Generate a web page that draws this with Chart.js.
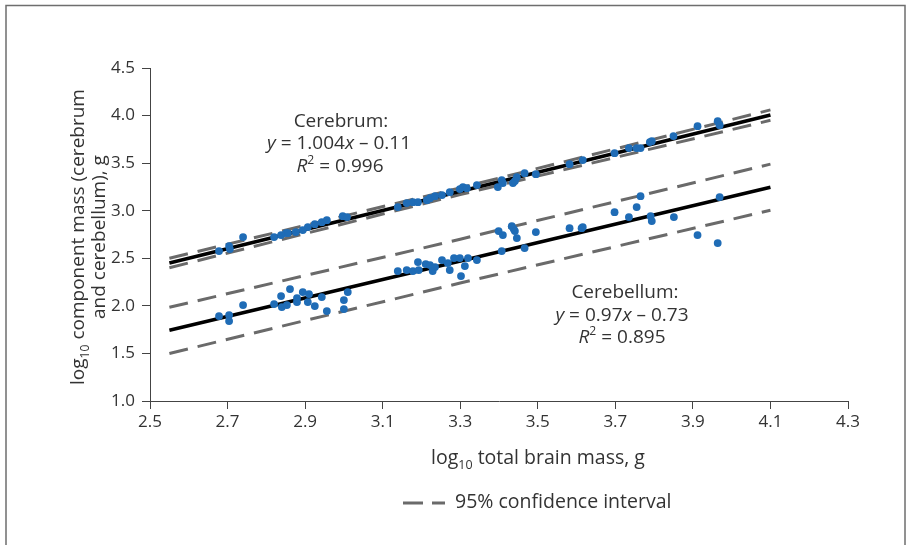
<!DOCTYPE html>
<html>
<head>
<meta charset="utf-8">
<script src="https://cdn.jsdelivr.net/npm/chart.js@4.4.1/dist/chart.umd.min.js"></script>
<style>
    html, body { margin: 0; padding: 0; background: #fff; overflow: hidden; }
    #wrap { width: 909px; height: 545px; position: relative; }
</style>
</head>
<body>
<div id="wrap"><canvas id="chart"></canvas></div>
<script>
// log10 total brain mass (g) against log10 cerebrum / cerebellum mass (g)
const cerebrumX = [2.678, 2.704, 2.706, 2.740, 2.820, 2.838, 2.851, 2.856, 2.876, 2.894, 2.907, 2.925, 2.943, 2.956, 2.997, 3.008,
    3.139, 3.162, 3.178, 3.191, 3.214, 3.222, 3.235, 3.253, 3.273, 3.299, 3.307, 3.317, 3.343, 3.397, 3.407, 3.410, 3.436, 3.441,
    3.446, 3.466, 3.495, 3.582, 3.616, 3.698, 3.735, 3.755, 3.765, 3.789, 3.794, 3.850, 3.912, 3.964, 3.969];
const cerebrumY = [2.576, 2.628, 2.597, 2.723, 2.723, 2.744, 2.765, 2.765, 2.775, 2.796, 2.828, 2.859, 2.880, 2.901, 2.943, 2.933,
    3.038, 3.080, 3.090, 3.090, 3.111, 3.132, 3.153, 3.164, 3.195, 3.227, 3.248, 3.237, 3.269, 3.248, 3.321, 3.290, 3.290, 3.311,
    3.353, 3.395, 3.384, 3.489, 3.532, 3.605, 3.658, 3.658, 3.658, 3.721, 3.731, 3.784, 3.889, 3.941, 3.899];

const cerebellumX = [2.678, 2.704, 2.704, 2.740, 2.820, 2.838, 2.840, 2.853, 2.861, 2.879, 2.879, 2.894, 2.907, 2.910, 2.925, 2.943,
    2.956, 3.000, 3.000, 3.010, 3.139, 3.162, 3.178, 3.191, 3.193, 3.211, 3.222, 3.229, 3.235, 3.253, 3.268, 3.273, 3.284, 3.299,
    3.302, 3.312, 3.320, 3.343, 3.399, 3.410, 3.407, 3.433, 3.438, 3.441, 3.446, 3.466, 3.495, 3.582, 3.613, 3.616, 3.698, 3.735,
    3.755, 3.765, 3.791, 3.794, 3.851, 3.912, 3.964, 3.969];
const cerebellumY = [1.893, 1.903, 1.840, 2.008, 2.019, 2.103, 1.987, 2.008, 2.176, 2.082, 2.040, 2.145, 2.040, 2.124, 1.998, 2.092,
    1.945, 2.061, 1.966, 2.145, 2.366, 2.376, 2.366, 2.460, 2.376, 2.439, 2.429, 2.366, 2.408, 2.481, 2.450, 2.376, 2.502, 2.502,
    2.313, 2.418, 2.502, 2.481, 2.786, 2.744, 2.576, 2.838, 2.807, 2.786, 2.712, 2.607, 2.775, 2.817, 2.817, 2.828, 2.985, 2.933,
    3.038, 3.153, 2.943, 2.891, 2.933, 2.744, 2.660, 3.143];

// fitted lines: [slope, intercept], same as the printed equations
const cerebrumFit = [1.004, -0.11];
const cerebellumFit = [0.97, -0.73];
const fitRange = [2.55, 4.1];

// 95% confidence bands
const bandX = [2.55, 3.3, 4.1];
const cerebrumUpper = [2.50, 3.24, 4.06];
const cerebrumLower = [2.40, 3.17, 3.95];
const cerebellumUpper = [1.985, 2.70, 3.49];
const cerebellumLower = [1.50, 2.24, 3.005];

const xTicks = [2.5, 2.7, 2.9, 3.1, 3.3, 3.5, 3.7, 3.9, 4.1, 4.3];
const yTicks = [1.0, 1.5, 2.0, 2.5, 3.0, 3.5, 4.0, 4.5];

const FONT = '"Open Sans", "Noto Sans", sans-serif';
const TEXT = '#333';
const DOT = '#1f6cb6';
const BAND = '#6a6a6a';
const BAND_DASH = [19, 10];

const toPoints = (xs, ys) => xs.map((x, i) => ({ x: x, y: ys[i] }));
const fitPoints = fit => fitRange.map(x => ({ x: x, y: fit[0] * x + fit[1] }));

function bandSet(label, ys) {
    return {
        type: 'line', label: label, data: toPoints(bandX, ys),
        borderColor: BAND, borderWidth: 3, borderDash: BAND_DASH,
        pointRadius: 0, fill: false, tension: 0, order: 3
    };
}

function fitSet(label, fit) {
    return {
        type: 'line', label: label, data: fitPoints(fit),
        borderColor: '#000', borderWidth: 3.5,
        pointRadius: 0, fill: false, order: 2
    };
}

function dotSet(label, xs, ys) {
    return {
        type: 'scatter', label: label, data: toPoints(xs, ys),
        backgroundColor: DOT, borderWidth: 0, pointRadius: 3.9, order: 1
    };
}

// text with italic / sub / superscript runs, centred on cx
function drawRich(ctx, parts, cx, baseline, size) {
    const fontFor = st => {
        const s = (st === 'sub' || st === 'sup') ? size * 0.64 : size;
        return (st === 'i' ? 'italic ' : '') + s + 'px ' + FONT;
    };
    let w = 0;
    parts.forEach(([t, st]) => { ctx.font = fontFor(st); w += ctx.measureText(t).width; });
    let x = cx - w / 2;
    ctx.textAlign = 'left';
    ctx.textBaseline = 'alphabetic';
    parts.forEach(([t, st]) => {
        ctx.font = fontFor(st);
        let y = baseline;
        if (st === 'sub') y += size * 0.28;
        if (st === 'sup') y -= size * 0.42;
        ctx.fillText(t, x, y);
        x += ctx.measureText(t).width;
    });
}

const decor = {
    id: 'decor',
    beforeDraw(chart) {
        const ctx = chart.ctx;
        ctx.save();
        ctx.fillStyle = '#fff';
        ctx.fillRect(0, 0, chart.width, chart.height);
        ctx.strokeStyle = '#6e6e6e';
        ctx.lineWidth = 1.5;
        ctx.strokeRect(6, 5.5, 899, 600);
        ctx.restore();
    },
    afterDraw(chart) {
        const ctx = chart.ctx;
        ctx.save();
        ctx.fillStyle = TEXT;

        // equations
        drawRich(ctx, [['Cerebrum:', '']], 341, 127, 19);
        drawRich(ctx, [['y', 'i'], [' = 1.004', ''], ['x', 'i'], [' \u2013 0.11', '']], 339, 149, 19);
        drawRich(ctx, [['R', 'i'], ['2', 'sup'], [' = 0.996', '']], 340, 172, 19);
        drawRich(ctx, [['Cerebellum:', '']], 625, 298, 19);
        drawRich(ctx, [['y', 'i'], [' = 0.97', ''], ['x', 'i'], [' \u2013 0.73', '']], 622, 321, 19);
        drawRich(ctx, [['R', 'i'], ['2', 'sup'], [' = 0.895', '']], 622, 343, 19);

        // axis titles
        drawRich(ctx, [['log', ''], ['10', 'sub'], [' total brain mass, g', '']], 538, 464, 19.5);
        ctx.save();
        ctx.translate(0, 237);
        ctx.rotate(-Math.PI / 2);
        drawRich(ctx, [['log', ''], ['10', 'sub'], [' component mass (cerebrum', '']], 0, 84, 19);
        drawRich(ctx, [['and cerebellum), g', '']], 0, 105, 19);
        ctx.restore();

        // legend
        ctx.strokeStyle = BAND;
        ctx.lineWidth = 3;
        ctx.setLineDash([20, 9]);
        ctx.beginPath();
        ctx.moveTo(403, 503);
        ctx.lineTo(445, 503);
        ctx.stroke();
        ctx.setLineDash([]);
        ctx.font = '19.5px ' + FONT;
        ctx.textAlign = 'left';
        ctx.fillText('95% confidence interval', 455, 508);
        ctx.restore();
    }
};

const axisStyle = {
    grid: { display: true, drawOnChartArea: false, drawTicks: true, tickLength: 8, tickColor: '#444', tickWidth: 1 },
    border: { display: true, color: '#444', width: 1 }
};

new Chart(document.getElementById('chart'), {
    type: 'scatter',
    data: {
        datasets: [
            dotSet('Cerebrum', cerebrumX, cerebrumY),
            dotSet('Cerebellum', cerebellumX, cerebellumY),
            fitSet('Cerebrum fit', cerebrumFit),
            fitSet('Cerebellum fit', cerebellumFit),
            bandSet('95% confidence interval', cerebrumUpper),
            bandSet('Cerebrum lower', cerebrumLower),
            bandSet('Cerebellum upper', cerebellumUpper),
            bandSet('Cerebellum lower', cerebellumLower)
        ]
    },
    options: {
        responsive: true,
        maintainAspectRatio: false,
        animation: false,
        layout: { padding: { left: 0, top: 68, right: 61, bottom: 0 } },
        plugins: { legend: { display: false }, tooltip: { enabled: false } },
        scales: {
            x: {
                type: 'linear', min: 2.5, max: 4.3,
                afterBuildTicks: s => { s.ticks = xTicks.map(v => ({ value: v })); },
                afterFit: s => { s.height = 144; },
                ...axisStyle,
                ticks: { color: TEXT, font: { family: FONT, size: 17 }, padding: 3, maxRotation: 0, autoSkip: false,
                    callback: v => v.toFixed(1) }
            },
            y: {
                type: 'linear', min: 1.0, max: 4.5,
                afterBuildTicks: s => { s.ticks = yTicks.map(v => ({ value: v })); },
                afterFit: s => { s.width = 150; },
                ...axisStyle,
                ticks: { color: TEXT, font: { family: FONT, size: 17 }, padding: 7, autoSkip: false,
                    callback: v => v.toFixed(1) }
            }
        }
    },
    plugins: [decor]
});
</script>
</body>
</html>
